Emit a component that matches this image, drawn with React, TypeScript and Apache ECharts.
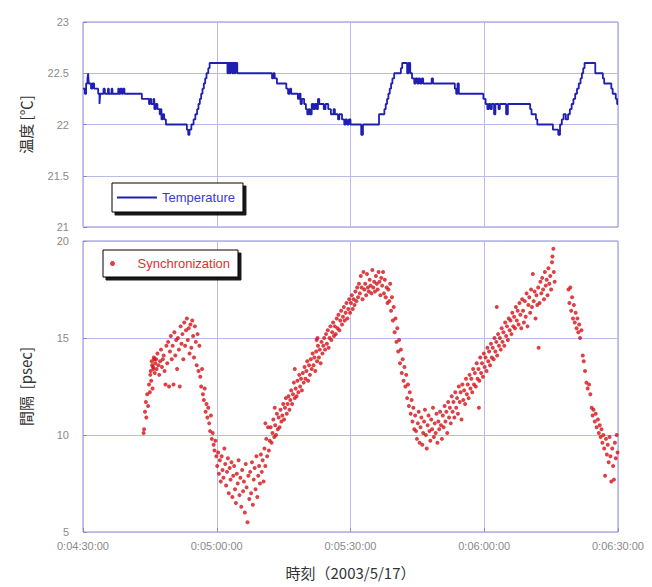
import React, { useEffect, useRef } from "react";
import * as echarts from "echarts";

// Time is expressed in minutes after 0:00 (270 = 0:04:30:00)
const xTickMin = 270;
const xTickMax = 390;
const xTickStep = 30;

const tempTicks = [21, 21.5, 22, 22.5, 23];
const syncTicks = [5, 10, 15, 20];

// Temperature [°C] (sample-and-hold changes)
const temperature: [number, number][] = [
  [270.0, 22.35], [270.4, 22.3], [270.7, 22.4], [271.0, 22.45], [271.15, 22.5], [271.3, 22.4], [271.8, 22.35],
  [272.1, 22.4], [272.5, 22.35], [273.4, 22.3], [273.7, 22.2], [273.85, 22.3], [274.6, 22.35], [274.9, 22.3],
  [275.6, 22.35], [275.8, 22.3], [276.4, 22.35], [276.6, 22.3], [277.9, 22.35], [278.1, 22.3], [278.4, 22.35],
  [278.7, 22.3], [279.0, 22.35], [279.3, 22.3], [283.2, 22.25], [284.8, 22.2], [285.0, 22.25], [285.3, 22.2],
  [285.8, 22.25], [286.0, 22.15], [286.3, 22.2], [286.7, 22.15], [287.2, 22.1], [287.4, 22.15], [287.6, 22.05],
  [287.9, 22.1], [288.2, 22.05], [288.6, 22.0], [293.3, 21.95], [293.6, 21.9], [293.9, 21.95], [294.3, 22.0],
  [294.8, 22.05], [295.2, 22.1], [295.6, 22.15], [295.9, 22.2], [296.2, 22.25], [296.5, 22.3], [296.8, 22.35],
  [297.1, 22.4], [297.4, 22.45], [297.7, 22.5], [298.1, 22.55], [298.4, 22.6], [302.4, 22.5], [302.6, 22.6],
  [302.9, 22.5], [303.1, 22.6], [303.5, 22.5], [303.7, 22.6], [304.0, 22.5], [304.2, 22.6], [304.6, 22.5],
  [312.4, 22.45], [312.7, 22.5], [313.0, 22.45], [313.5, 22.4], [315.6, 22.35], [316.0, 22.3], [316.4, 22.35],
  [316.7, 22.3], [318.2, 22.25], [318.5, 22.3], [318.8, 22.2], [319.1, 22.25], [319.6, 22.2], [320.0, 22.15],
  [320.3, 22.1], [320.6, 22.15], [320.9, 22.1], [321.3, 22.2], [321.7, 22.15], [322.0, 22.2], [322.4, 22.15],
  [322.7, 22.25], [323.0, 22.2], [324.0, 22.15], [324.4, 22.2], [325.0, 22.15], [325.6, 22.1], [326.2, 22.15],
  [326.5, 22.1], [327.2, 22.05], [327.5, 22.1], [328.1, 22.05], [328.6, 22.0], [328.9, 22.05], [329.2, 22.0],
  [329.6, 22.05], [330.0, 22.0], [332.4, 21.9], [332.8, 22.0], [336.4, 22.1], [337.6, 22.15], [337.9, 22.2],
  [338.2, 22.25], [338.5, 22.3], [338.8, 22.35], [339.1, 22.4], [339.4, 22.45], [339.8, 22.5], [341.3, 22.55],
  [341.6, 22.6], [342.7, 22.5], [343.0, 22.6], [343.4, 22.5], [343.8, 22.45], [344.3, 22.4], [344.6, 22.45],
  [345.0, 22.4], [345.3, 22.45], [345.6, 22.4], [346.0, 22.45], [346.3, 22.4], [348.2, 22.45], [348.5, 22.4],
  [353.4, 22.35], [353.7, 22.3], [354.0, 22.4], [354.3, 22.3], [359.8, 22.25], [360.3, 22.2], [360.7, 22.15],
  [361.0, 22.2], [361.4, 22.15], [361.7, 22.2], [362.2, 22.1], [362.5, 22.2], [363.2, 22.15], [363.5, 22.2],
  [364.9, 22.1], [365.3, 22.2], [370.3, 22.15], [370.6, 22.1], [371.6, 22.05], [371.9, 22.0], [375.4, 21.95],
  [376.6, 21.9], [377.0, 22.0], [377.4, 22.05], [377.8, 22.1], [378.3, 22.05], [378.8, 22.1], [379.2, 22.15],
  [379.6, 22.2], [380.0, 22.25], [380.4, 22.3], [380.8, 22.35], [381.2, 22.4], [381.6, 22.45], [381.9, 22.5],
  [382.2, 22.55], [382.5, 22.6], [384.9, 22.5], [386.6, 22.45], [386.9, 22.4], [388.5, 22.35], [388.8, 22.3],
  [389.5, 22.25], [389.8, 22.2], [390.0, 22.2],
];

// Synchronization interval [psec]
const synchronization: [number, number][] = [
  [283.6, 10.1], [283.7, 10.3], [283.9, 11.2], [284.1, 11.7], [284.2, 10.9], [284.4, 12.1], [284.6, 11.5],
  [284.8, 12.6], [285.0, 12.2], [285.1, 13.1], [285.3, 12.8], [285.5, 13.6], [285.6, 12.4], [285.8, 13.4],
  [286.0, 13.9], [285.2, 13.3], [285.4, 13.8], [285.7, 13.5], [285.9, 14.0], [286.1, 13.2], [286.2, 13.7],
  [286.4, 13.9], [286.5, 13.4], [286.7, 14.2], [286.9, 13.6], [287.1, 13.1], [287.3, 13.8], [287.5, 14.4],
  [287.7, 13.5], [287.9, 13.9], [288.1, 14.1], [288.3, 13.3], [288.5, 12.6], [288.7, 14.6], [288.9, 13.7],
  [289.1, 14.8], [289.3, 12.5], [289.5, 14.3], [289.7, 15.1], [289.9, 13.9], [290.1, 14.6], [290.3, 12.6],
  [290.5, 15.3], [290.7, 14.1], [290.9, 14.9], [291.1, 13.4], [291.3, 15.0], [291.5, 14.4], [291.7, 12.5],
  [291.9, 15.6], [292.1, 14.7], [292.3, 15.2], [292.5, 13.9], [292.7, 15.8], [292.9, 14.6], [293.1, 15.4],
  [293.3, 16.0], [293.5, 14.9], [293.7, 15.5], [293.9, 14.2], [294.1, 15.7], [294.3, 14.5], [294.5, 15.9],
  [294.7, 15.1], [294.9, 14.0], [295.1, 15.6], [295.3, 14.8], [295.5, 13.6], [295.7, 15.2], [295.9, 13.3],
  [296.1, 14.6], [296.3, 13.0], [296.5, 12.5], [296.7, 13.4], [296.9, 12.1], [297.1, 11.8], [297.3, 12.4],
  [297.5, 11.2], [297.7, 11.6], [297.9, 10.9], [298.1, 11.4], [298.3, 10.6], [298.5, 10.2], [298.7, 11.0],
  [298.9, 9.8], [299.1, 10.1], [299.3, 9.5], [299.5, 9.2], [299.7, 9.7], [299.9, 8.9],
  [300.1, 8.4], [300.3, 9.1], [300.5, 8.0], [300.7, 8.7], [300.9, 7.6], [301.1, 8.9], [301.3, 8.2],
  [301.5, 7.8], [301.7, 9.3], [301.9, 8.5], [302.1, 7.4], [302.3, 8.1], [302.5, 8.8], [302.7, 7.0],
  [302.9, 8.3], [303.1, 7.7], [303.3, 8.6], [303.5, 6.8], [303.7, 7.9], [303.9, 8.4], [304.1, 7.2],
  [304.3, 6.5], [304.5, 8.0], [304.7, 7.5], [304.9, 8.7], [305.1, 6.9], [305.3, 7.8], [305.5, 6.3],
  [305.7, 8.2], [305.9, 7.1], [306.1, 7.6], [306.3, 6.0], [306.5, 8.5], [306.7, 7.3], [306.9, 5.5],
  [307.1, 7.9], [307.3, 6.7], [307.5, 8.1], [307.7, 7.0], [307.9, 8.6], [308.1, 6.4], [308.3, 7.7],
  [308.5, 8.3], [308.7, 7.2], [308.9, 8.9], [309.1, 6.8], [309.3, 7.9], [309.5, 8.4], [309.7, 7.5],
  [309.9, 9.0], [310.1, 8.1], [310.3, 8.7], [310.5, 7.6], [310.7, 9.3], [310.9, 8.4], [311.1, 9.8],
  [311.3, 8.9], [311.5, 10.4], [311.7, 9.2], [311.9, 9.7], [310.9, 10.6],
  [312.1, 10.4], [312.3, 9.6], [312.5, 10.1], [312.7, 10.8], [312.9, 9.9], [313.1, 10.5], [313.3, 10.0],
  [313.5, 11.1], [313.7, 10.3], [313.9, 10.9], [314.1, 10.4], [314.3, 11.3], [314.5, 10.7], [314.7, 11.0],
  [314.9, 11.6], [315.1, 10.8], [315.3, 11.4], [315.5, 11.9], [315.7, 11.1], [315.9, 11.6], [316.1, 12.0],
  [316.3, 11.3], [316.5, 11.8], [316.7, 12.3], [316.9, 11.6], [317.1, 12.1], [317.3, 12.7], [317.5, 11.9],
  [317.7, 12.4], [317.9, 12.0], [318.1, 12.8], [318.3, 12.2], [318.5, 13.1], [318.7, 12.5], [318.9, 12.9],
  [319.1, 12.3], [319.3, 13.2], [319.5, 12.7], [319.7, 13.5], [319.9, 12.9], [320.1, 13.3], [320.3, 13.8],
  [320.5, 12.8], [320.7, 13.6], [320.9, 13.1], [321.1, 13.9], [321.3, 13.4], [321.5, 14.2], [321.7, 13.6],
  [321.9, 14.0], [322.1, 13.3], [322.3, 14.3], [322.5, 13.8], [322.7, 14.6], [322.9, 14.0], [323.1, 14.4],
  [323.3, 13.7], [323.5, 14.8], [323.7, 14.2], [323.9, 14.6], [324.1, 15.0], [324.3, 14.4], [324.5, 15.2],
  [324.7, 14.7], [324.9, 15.4], [325.1, 14.5], [325.3, 15.0], [325.5, 15.6], [325.7, 14.9], [325.9, 15.3],
  [326.1, 15.8], [326.3, 15.1], [326.5, 15.6], [326.7, 15.2], [326.9, 16.0], [327.1, 15.5], [327.3, 16.2],
  [327.5, 15.4], [327.7, 15.9], [327.9, 16.4], [328.1, 15.7], [328.3, 16.1], [328.5, 16.6], [328.7, 15.9],
  [328.9, 16.3], [329.1, 16.8], [329.3, 16.0], [329.5, 16.5], [329.7, 17.0], [329.9, 16.3], [330.1, 16.8],
  [330.3, 17.2], [330.5, 16.5], [330.7, 17.0], [330.9, 16.7], [331.1, 17.4], [331.3, 16.9], [331.5, 17.6],
  [331.7, 17.1], [331.9, 17.8], [322.6, 15.0], [322.4, 14.9], [317.5, 13.4], [313.0, 11.4],
  [332.1, 17.3], [332.3, 18.2], [332.5, 17.6], [332.7, 17.0], [332.9, 18.4], [333.1, 17.5], [333.3, 17.8],
  [333.5, 17.2], [333.7, 18.3], [333.9, 17.6], [334.1, 17.4], [334.3, 18.0], [334.5, 17.7], [334.7, 17.3],
  [334.9, 18.5], [335.1, 17.6], [335.3, 17.9], [335.5, 17.4], [335.7, 18.2], [335.9, 17.8], [336.1, 17.5],
  [336.3, 18.4], [336.5, 17.9], [336.7, 17.2], [336.9, 18.1], [337.1, 17.7], [337.3, 18.4], [337.5, 17.3],
  [337.7, 18.0], [337.9, 17.1], [338.1, 17.6], [338.3, 16.8],
  [338.5, 17.5], [338.7, 16.9], [338.9, 17.8], [339.1, 16.4], [339.3, 17.1], [339.5, 15.9], [339.7, 16.6],
  [339.9, 15.3], [340.1, 16.0], [340.3, 14.8], [340.5, 15.5], [340.7, 14.3], [340.9, 14.9], [341.1, 13.7],
  [341.3, 14.4], [341.5, 13.2], [341.7, 13.9], [341.9, 12.8], [342.1, 13.5], [342.3, 12.5], [342.5, 13.1],
  [342.7, 11.9], [342.9, 12.6], [343.1, 11.5], [343.3, 12.2], [343.5, 11.1], [343.7, 11.8], [343.9, 10.7],
  [344.1, 11.4], [344.3, 10.3], [344.5, 11.0],
  [344.7, 10.2], [344.9, 9.8], [345.1, 10.6], [345.3, 11.2], [345.5, 9.6], [345.7, 10.4], [345.9, 10.9],
  [346.1, 9.5], [346.3, 10.1], [346.5, 10.7], [346.7, 11.3], [346.9, 10.0], [347.1, 9.3], [347.3, 10.5],
  [347.5, 11.0], [347.7, 10.2], [347.9, 9.7], [348.1, 10.8], [348.3, 10.3], [348.5, 11.4], [348.7, 9.9],
  [348.9, 10.6], [349.1, 10.1], [349.3, 11.1], [349.5, 9.6], [349.7, 10.7], [349.9, 10.3], [350.1, 11.2],
  [350.3, 10.5], [350.5, 9.8], [350.7, 11.0],
  [350.9, 10.4], [351.1, 11.5], [351.3, 10.7], [351.5, 11.2], [351.7, 10.1], [351.9, 11.7], [352.1, 10.9],
  [352.3, 11.4], [352.5, 10.6], [352.7, 12.0], [352.9, 11.2], [353.1, 11.7], [353.3, 10.9], [353.5, 12.2],
  [353.7, 11.4], [353.9, 11.9], [354.1, 11.1], [354.3, 12.5], [354.5, 11.7], [354.7, 12.2], [354.9, 10.8],
  [355.1, 12.6], [355.3, 11.8], [355.5, 12.3], [355.7, 11.6], [355.9, 12.9], [356.1, 12.1], [356.3, 12.6],
  [356.5, 11.9], [356.7, 13.1], [356.9, 12.4], [357.1, 12.9], [357.3, 12.2], [357.5, 13.4], [357.7, 12.6],
  [357.9, 13.2], [358.1, 12.5], [358.3, 13.7], [358.5, 12.9], [358.7, 13.4], [358.9, 12.8], [359.1, 14.0],
  [359.3, 13.2], [359.5, 13.7], [359.7, 13.0], [359.9, 14.2], [360.1, 13.5], [360.3, 14.0], [360.5, 13.3],
  [360.7, 14.5], [360.9, 13.8], [361.1, 14.3], [361.3, 13.6], [361.5, 14.7], [361.7, 14.0], [361.9, 14.5],
  [362.1, 13.9], [362.3, 15.0], [362.5, 14.3], [362.7, 14.8], [362.9, 14.1], [363.1, 15.2], [363.3, 14.6],
  [363.5, 15.0], [363.7, 14.4], [363.9, 15.5], [364.1, 14.8], [364.3, 15.3], [364.5, 14.6], [364.7, 15.8],
  [364.9, 15.1], [365.1, 15.6], [365.3, 14.9], [365.5, 16.0], [365.7, 15.4], [365.9, 15.9], [366.1, 15.2],
  [366.3, 16.3], [366.5, 15.6], [366.7, 16.1], [366.9, 15.5], [367.1, 16.6], [367.3, 15.9], [367.5, 16.4],
  [367.7, 15.7], [367.9, 16.8], [362.8, 16.6], [358.8, 11.4],
  [368.1, 16.2], [368.3, 15.5], [368.5, 17.0], [368.7, 16.4], [368.9, 15.8], [369.1, 16.9], [369.3, 16.1],
  [369.5, 17.3], [369.7, 15.6], [369.9, 16.7], [370.1, 17.1], [370.3, 16.3], [370.5, 17.5], [370.7, 16.6],
  [370.9, 18.3], [371.1, 16.9], [371.3, 17.4], [371.5, 16.0], [371.7, 17.2], [371.9, 16.7], [372.1, 17.6],
  [372.2, 14.5], [372.4, 16.8], [372.6, 17.9], [372.8, 17.3], [373.0, 18.1], [373.2, 17.5], [373.4, 17.0],
  [373.6, 18.4], [373.8, 17.7], [374.0, 18.0], [374.2, 17.2], [374.4, 18.6], [374.6, 17.8], [374.8, 18.2],
  [375.0, 17.5], [375.2, 18.9], [375.3, 19.2], [375.5, 19.6], [375.6, 18.4], [375.8, 17.9],
  [378.9, 17.5], [379.1, 16.8], [379.3, 17.6], [379.5, 16.4], [379.7, 17.1], [379.9, 16.0], [380.1, 16.7],
  [380.3, 15.8], [380.5, 16.3], [380.7, 15.5], [380.9, 16.0], [381.1, 15.3], [381.3, 15.7], [381.5, 15.0],
  [381.8, 15.4], [382.1, 14.1], [382.3, 13.8], [382.6, 13.3], [382.9, 12.7], [383.2, 12.4], [383.5, 12.6],
  [383.8, 12.1], [384.1, 11.4], [384.3, 11.0], [384.5, 11.3], [384.8, 10.7], [385.0, 11.1], [385.2, 10.4],
  [385.5, 10.8], [385.7, 10.1], [385.9, 10.5], [386.1, 9.9], [386.3, 10.3], [386.5, 9.6], [386.7, 10.0],
  [386.9, 9.3], [387.1, 7.9], [387.3, 9.8], [387.5, 9.0], [387.7, 9.5], [387.9, 8.6], [388.1, 9.9],
  [388.3, 8.9], [388.5, 7.6], [388.7, 9.3], [388.9, 8.4], [389.1, 7.7], [389.3, 9.6], [389.5, 8.8],
  [389.7, 10.0], [389.9, 9.1],
];

const pad2 = (n: number) => String(n).padStart(2, "0");
const formatTime = (v: number) => `0:${pad2(Math.floor(v / 60))}:${pad2(v % 60)}:00`;

const frameColor = "#8a8ad2";
const gridLineColor = "#babae8";
const labelColor = "#8a8a8a";
const blue = "#2020b0";
const red = "#d41216";

export default function App() {
  const ref = useRef<HTMLDivElement>(null);
  useEffect(() => {
    if (!ref.current) return;
    const chart = echarts.init(ref.current, undefined, { renderer: "svg" });
    const xCommon = {
      type: "value" as const,
      min: xTickMin,
      max: xTickMax,
      interval: xTickStep,
      axisLine: { show: false },
      splitLine: { show: true, lineStyle: { color: gridLineColor, width: 1 } },
    };
    const yCommon = {
      type: "value" as const,
      axisLine: { show: false },
      axisTick: { show: true, inside: true, length: 4, lineStyle: { color: frameColor } },
      splitLine: { show: true, lineStyle: { color: gridLineColor, width: 1 } },
      axisLabel: { color: labelColor, fontSize: 11, margin: 14, fontFamily: "Liberation Sans" },
      nameLocation: "middle" as const,
      nameTextStyle: { color: "#333", fontSize: 15, fontFamily: "Noto Sans CJK JP" },
    };
    const legendBox = {
      backgroundColor: "#ffffff",
      borderColor: "#000000",
      borderWidth: 1,
      shadowColor: "rgba(0,0,0,0.9)",
      shadowOffsetX: 3,
      shadowOffsetY: 3,
      shadowBlur: 1,
      itemWidth: 40,
      symbolKeepAspect: false,
    };
    chart.setOption({
      animation: false,
      backgroundColor: "#ffffff",
      grid: [
        { left: 83, top: 22, width: 535, height: 205, show: true, borderColor: frameColor, borderWidth: 1 },
        { left: 83, top: 241, width: 535, height: 291, show: true, borderColor: frameColor, borderWidth: 1 },
      ],
      xAxis: [
        { ...xCommon, gridIndex: 0, axisTick: { show: false }, axisLabel: { show: false } },
        {
          ...xCommon,
          gridIndex: 1,
          axisTick: { show: true, inside: true, length: 4, lineStyle: { color: frameColor } },
          axisLabel: { formatter: formatTime, color: labelColor, fontSize: 11, margin: 8, fontFamily: "Liberation Sans" },
          name: "時刻（2003/5/17）",
          nameLocation: "middle",
          nameGap: 33,
          nameTextStyle: { color: "#333", fontSize: 15, fontFamily: "Noto Sans CJK JP" },
        },
      ],
      yAxis: [
        {
          ...yCommon,
          gridIndex: 0,
          min: tempTicks[0],
          max: tempTicks[tempTicks.length - 1],
          interval: tempTicks[1] - tempTicks[0],
          name: "温度 [℃]",
          nameGap: 50,
        },
        {
          ...yCommon,
          gridIndex: 1,
          min: syncTicks[0],
          max: syncTicks[syncTicks.length - 1],
          interval: syncTicks[1] - syncTicks[0],
          name: "間隔  [psec]",
          nameGap: 50,
        },
      ],
      legend: [
        {
          ...legendBox,
          data: [{ name: "Temperature", icon: "rect" }],
          left: 112,
          top: 183,
          itemHeight: 2,
          padding: [8, 8, 8, 5],
          textStyle: { color: "#3a3ad4", fontSize: 13, fontFamily: "Liberation Sans" },
        },
        {
          ...legendBox,
          data: [{ name: "Synchronization", icon: "circle" }],
          symbolKeepAspect: true,
          left: 103,
          top: 250,
          itemHeight: 5,
          padding: [7, 8, 7, 7],
          textStyle: { color: "#e03030", fontSize: 13, fontFamily: "Liberation Sans" },
        },
      ],
      series: [
        {
          type: "line",
          name: "Temperature",
          xAxisIndex: 0,
          yAxisIndex: 0,
          data: temperature,
          step: "end",
          symbol: "none",
          showSymbol: false,
          lineStyle: { color: blue, width: 1.8 },
          itemStyle: { color: blue },
        },
        {
          type: "scatter",
          name: "Synchronization",
          xAxisIndex: 1,
          yAxisIndex: 1,
          data: synchronization,
          symbol: "circle",
          symbolSize: 4,
          itemStyle: { color: red },
        },
      ],
    });
    return () => chart.dispose();
  }, []);
  return (
    <div
      ref={ref}
      style={{ position: "fixed", left: 0, top: 0, width: 652, height: 587, background: "#fff" }}
    />
  );
}
